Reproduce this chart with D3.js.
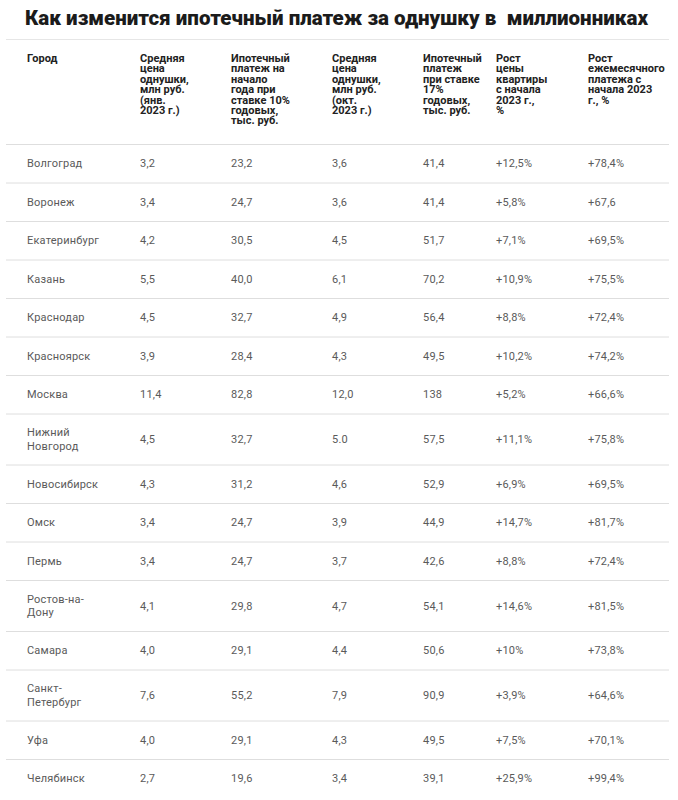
<!DOCTYPE html>
<html>
<head>
<meta charset="utf-8">
<script src="https://cdn.jsdelivr.net/npm/d3@7"></script>
<style>
  html, body { margin: 0; padding: 0; background: #fff; }
  svg { display: block; }
</style>
</head>
<body>
<svg id="chart" width="678" height="800"></svg>
<script>
const title = "Как изменится ипотечный платеж за однушку в  миллионниках";

const headers = [
  ["Город"],
  ["Средняя", "цена", "однушки,", "млн руб.", "(янв.", "2023 г.)"],
  ["Ипотечный", "платеж на", "начало", "года при", "ставке 10%", "годовых,", "тыс. руб."],
  ["Средняя", "цена", "однушки,", "млн руб.", "(окт.", "2023 г.)"],
  ["Ипотечный", "платеж", "при ставке", "17%", "годовых,", "тыс. руб."],
  ["Рост", "цены", "квартиры", "с начала", "2023 г.,", "%"],
  ["Рост", "ежемесячного", "платежа с", "начала 2023", "г., %"]
];

const cities = [
  ["Волгоград"], ["Воронеж"], ["Екатеринбург"], ["Казань"], ["Краснодар"],
  ["Красноярск"], ["Москва"], ["Нижний", "Новгород"], ["Новосибирск"], ["Омск"],
  ["Пермь"], ["Ростов-на-", "Дону"], ["Самара"], ["Санкт-", "Петербург"], ["Уфа"], ["Челябинск"]
];

const priceJan   = ["3,2","3,4","4,2","5,5","4,5","3,9","11,4","4,5","4,3","3,4","3,4","4,1","4,0","7,6","4,0","2,7"];
const paymentJan = ["23,2","24,7","30,5","40,0","32,7","28,4","82,8","32,7","31,2","24,7","24,7","29,8","29,1","55,2","29,1","19,6"];
const priceOct   = ["3,6","3,6","4,5","6,1","4,9","4,3","12,0","5.0","4,6","3,9","3,7","4,7","4,4","7,9","4,3","3,4"];
const paymentOct = ["41,4","41,4","51,7","70,2","56,4","49,5","138","57,5","52,9","44,9","42,6","54,1","50,6","90,9","49,5","39,1"];
const priceGrowth   = ["+12,5%","+5,8%","+7,1%","+10,9%","+8,8%","+10,2%","+5,2%","+11,1%","+6,9%","+14,7%","+8,8%","+14,6%","+10%","+3,9%","+7,5%","+25,9%"];
const paymentGrowth = ["+78,4%","+67,6","+69,5%","+75,5%","+72,4%","+74,2%","+66,6%","+75,8%","+69,5%","+81,7%","+72,4%","+81,5%","+73,8%","+64,6%","+70,1%","+99,4%"];

// layout
const colLeft = [27, 140, 231, 332, 423, 496, 588];
const ruleX0 = 6, ruleX1 = 669;
const tableTop = 144;
const singleRowH = 38.5, extraLineH = 12.5;

const svg = d3.select("#chart");

// title
svg.append("text")
  .attr("x", 25).attr("y", 25)
  .attr("font-family", "Roboto, 'Noto Sans', sans-serif")
  .attr("font-weight", 900)
  .attr("font-size", 20)
  .attr("fill", "#1b1b1b")
  .attr("textLength", 623)
  .attr("lengthAdjust", "spacingAndGlyphs")
  .style("white-space", "pre")
  .text(title);

svg.append("line")
  .attr("x1", ruleX0).attr("x2", ruleX1)
  .attr("y1", 39.5).attr("y2", 39.5)
  .attr("stroke", "#e6e6e6").attr("stroke-width", 1);

// column scale
const colScale = d3.scaleOrdinal().domain(d3.range(headers.length)).range(colLeft);

// header
const hdr = svg.append("g");
headers.forEach((lines, c) => {
  const t = hdr.append("text")
    .attr("x", colScale(c)).attr("y", 62)
    .attr("font-family", "Roboto, 'Noto Sans', sans-serif")
    .attr("font-weight", 700)
    .attr("font-size", 11)
    .attr("fill", "#222");
  lines.forEach((ln, i) => {
    t.append("tspan").attr("x", colScale(c)).attr("dy", i === 0 ? 0 : 10.4).text(ln);
  });
});

// rows
const rows = cities.map((city, i) => ({
  cells: [city, [priceJan[i]], [paymentJan[i]], [priceOct[i]], [paymentOct[i]], [priceGrowth[i]], [paymentGrowth[i]]],
  lines: city.length
}));
let acc = tableTop;
rows.forEach(r => {
  r.h = singleRowH + (r.lines - 1) * extraLineH;
  r.y0 = acc; acc += r.h;
});

const rowScale = d3.scaleOrdinal().domain(d3.range(rows.length)).range(rows.map(r => r.y0));

const body = svg.append("g");
rows.forEach((r, i) => {
  const y0 = rowScale(i);
  body.append("line")
    .attr("x1", ruleX0).attr("x2", ruleX1)
    .attr("y1", y0 + 0.5).attr("y2", y0 + 0.5)
    .attr("stroke", "#dedede").attr("stroke-width", 1);
  const cy = y0 + r.h / 2;
  r.cells.forEach((cell, c) => {
    const n = cell.length;
    const t = body.append("text")
      .attr("x", colScale(c))
      .attr("font-family", "Roboto, 'Noto Sans', sans-serif")
      .attr("font-weight", 400)
      .attr("font-size", 11)
      .attr("letter-spacing", 0.2)
      .attr("fill", "#5a5a5a");
    cell.forEach((ln, k) => {
      t.append("tspan")
        .attr("x", colScale(c))
        .attr("y", cy + 4 + (k - (n - 1) / 2) * 13.5)
        .text(ln);
    });
  });
});
</script>
</body>
</html>
